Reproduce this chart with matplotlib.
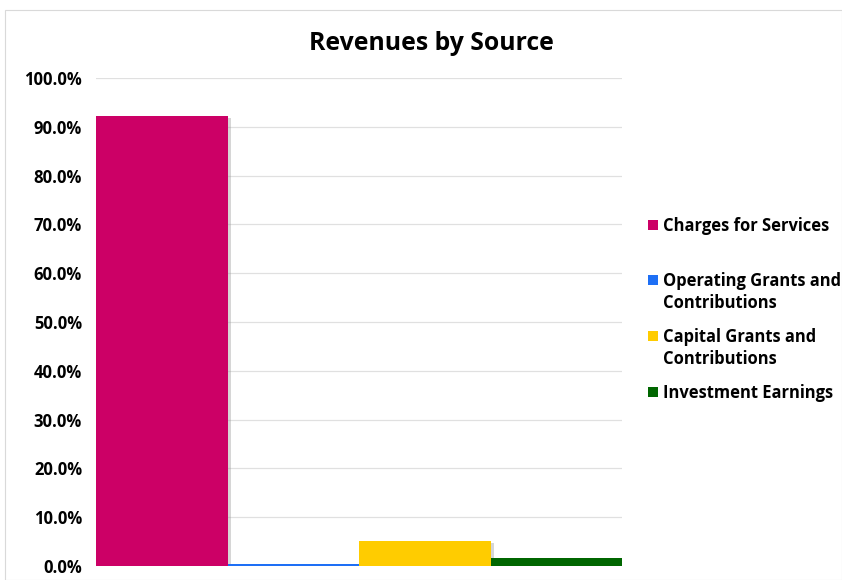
import matplotlib
matplotlib.use("Agg")
import matplotlib.pyplot as plt
import matplotlib.patheffects as pe
from matplotlib.patches import Rectangle
from matplotlib.ticker import FuncFormatter, MultipleLocator

categories = ["Charges for Services", "Operating Grants and\nContributions",
              "Capital Grants and\nContributions", "Investment Earnings"]
values = [92.2, 0.4, 5.2, 1.7]
colors = ["#CC0066", "#1E6FF5", "#FFCC00", "#006600"]
title = "Revenues by Source"

plt.rcParams['font.family'] = ['Open Sans', 'DejaVu Sans']

W, H = 842, 580
fig = plt.figure(figsize=(W / 100, H / 100), dpi=100)

# light frame
fig.patches.append(Rectangle((5 / W, 0), (W - 5) / W, (H - 10) / H, transform=fig.transFigure,
                             fill=False, edgecolor="#d9d9d9", linewidth=0.8))

ax = fig.add_axes([96 / W, 1 - 566 / H, (622 - 96) / W, (566 - 78) / H])
x = [i + 0.5 for i in range(len(values))]
bars = ax.bar(x, values, width=1.0, color=colors, zorder=3)
for b in bars[:1] + bars[2:]:
    b.set_path_effects([pe.SimplePatchShadow(offset=(2.5, -1.5), shadow_rgbFace="#999999", alpha=0.4),
                        pe.Normal()])
ax.set_xlim(0, len(values))
ax.set_ylim(0, 100)
ax.yaxis.set_major_locator(MultipleLocator(10))
ax.yaxis.set_major_formatter(FuncFormatter(lambda v, p: f"{v:.1f}%"))
ax.grid(axis="y", color="#e0e0e0", linewidth=0.9, zorder=0)
ax.set_xticks([])
for s in ax.spines.values():
    s.set_visible(False)
ax.tick_params(axis="y", length=0, pad=10, labelsize=12)
for lab in ax.get_yticklabels():
    lab.set_fontweight("bold")

fig.text(431 / W, 1 - 44 / H, title, ha="center", va="center", fontsize=17.8, fontweight="bold")

# legend drawn manually (square aligned with first line)
leg_y = [225, 280, 336, 392]
for cat, col, yy in zip(categories, colors, leg_y):
    fig.patches.append(Rectangle((648 / W, 1 - (yy + 5) / H), 10 / W, 10 / H,
                                 transform=fig.transFigure, facecolor=col, edgecolor="none"))
    fig.text(663 / W, 1 - (yy - 8) / H, cat, ha="left", va="top", fontsize=11.9,
             fontweight="bold", linespacing=1.32)

fig.savefig("out.png", dpi=100)
